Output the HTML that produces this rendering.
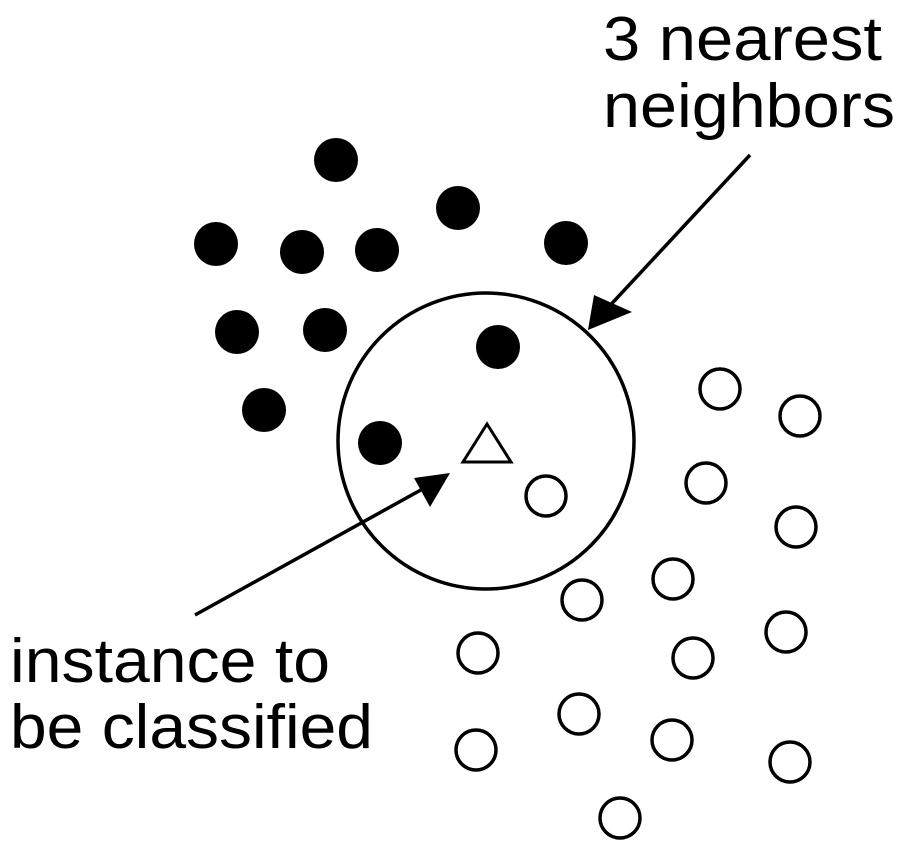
<!DOCTYPE html>
<html><head><meta charset="utf-8"><style>
html,body{margin:0;padding:0;background:#fff;}
svg{display:block;}
text{font-family:"Liberation Sans",sans-serif;font-size:62px;fill:#000;}
</style></head><body>
<svg width="903" height="857" viewBox="0 0 903 857" xmlns="http://www.w3.org/2000/svg">
<defs>
<marker id="ah" markerWidth="10" markerHeight="8" refX="9" refY="4" orient="auto" markerUnits="userSpaceOnUse" viewBox="0 0 10 8">
</marker>
</defs>
<text x="603" y="60" textLength="279" lengthAdjust="spacingAndGlyphs">3 nearest</text>
<text x="603" y="127" textLength="292" lengthAdjust="spacingAndGlyphs">neighbors</text>
<text x="10" y="682" textLength="320" lengthAdjust="spacingAndGlyphs">instance to</text>
<text x="10" y="748" textLength="363" lengthAdjust="spacingAndGlyphs">be classified</text>
<g fill="#000">
<circle cx="336" cy="160" r="22"/>
<circle cx="458" cy="208" r="22"/>
<circle cx="216" cy="244" r="22"/>
<circle cx="302" cy="252" r="22"/>
<circle cx="377" cy="250" r="22"/>
<circle cx="566" cy="243" r="22"/>
<circle cx="237" cy="332" r="22"/>
<circle cx="325" cy="330" r="22"/>
<circle cx="498" cy="347" r="22"/>
<circle cx="264" cy="410" r="22"/>
<circle cx="380" cy="443" r="22"/>
</g>
<g fill="none" stroke="#000" stroke-width="3.5">
<circle cx="486" cy="441" r="148"/>
<circle cx="720" cy="389" r="20"/>
<circle cx="800" cy="416" r="20"/>
<circle cx="706" cy="483" r="20"/>
<circle cx="546" cy="496" r="20"/>
<circle cx="796" cy="527" r="20"/>
<circle cx="673" cy="579" r="20"/>
<circle cx="582" cy="600" r="20"/>
<circle cx="478" cy="653" r="20"/>
<circle cx="693" cy="658" r="20"/>
<circle cx="786" cy="632" r="20"/>
<circle cx="579" cy="714" r="20"/>
<circle cx="672" cy="740" r="20"/>
<circle cx="476" cy="750" r="20"/>
<circle cx="790" cy="762" r="20"/>
<circle cx="620" cy="818" r="20"/>
<polygon points="487,424 463,462 511,462" stroke-width="3"/>
<line x1="750" y1="155" x2="604" y2="312"/>
<line x1="195" y1="615" x2="428" y2="486"/>
</g>
<polygon points="588,330 594,295 632,312" fill="#000"/>
<polygon points="450,473 414,478 430,507" fill="#000"/>
</svg>
</body></html>
